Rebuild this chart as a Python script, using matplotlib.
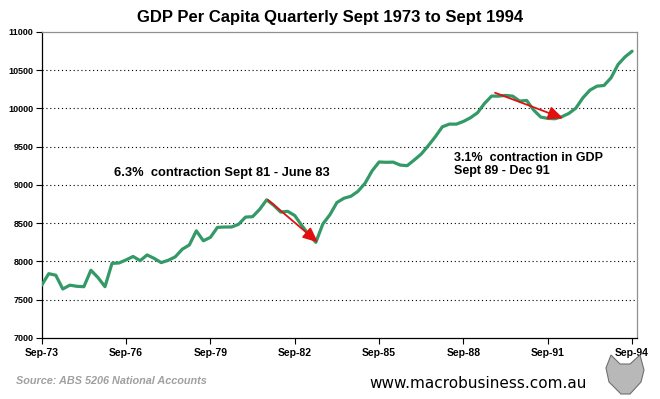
import matplotlib.pyplot as plt
import numpy as np
from matplotlib.patches import Polygon

plt.rcParams['font.family'] = ['Liberation Sans', 'DejaVu Sans']

# Quarterly GDP per capita, Sep-73 .. Sep-94
gdp = [7690, 7840, 7820, 7640, 7690, 7675, 7670, 7885, 7790, 7670,
       7975, 7980, 8020, 8065, 8010, 8085, 8040, 7985, 8015, 8060,
       8160, 8215, 8400, 8270, 8315, 8445, 8450, 8450, 8485, 8580,
       8585, 8680, 8805, 8735, 8645, 8655, 8600, 8470, 8350, 8250,
       8490, 8610, 8770, 8826, 8852, 8917, 9022, 9183, 9300, 9296,
       9298, 9260, 9252, 9326, 9404, 9513, 9630, 9760, 9795, 9795,
       9830, 9878, 9943, 10065, 10161, 10161, 10170, 10161, 10096, 10104,
       9978, 9887, 9870, 9865, 9891, 9935, 10004, 10139, 10239, 10291,
       10300, 10400, 10574, 10674, 10748]
tick_pos = [0, 12, 24, 36, 48, 60, 72, 84]
tick_labels = ['Sep-73', 'Sep-76', 'Sep-79', 'Sep-82', 'Sep-85', 'Sep-88', 'Sep-91', 'Sep-94']
y_ticks = [7000, 7500, 8000, 8500, 9000, 9500, 10000, 10500, 11000]

# arrows: (start x, start y, end x, end y) in data units
arrow1 = (32.2, 8804, 39.3, 8250)
arrow2 = (64.5, 10205, 74.2, 9870)

green = '#339966'
red = '#e01010'

fig = plt.figure(figsize=(6.6, 3.99), dpi=100)
ax = fig.add_axes([0.0632, 0.153, 0.902, 0.767])

x = np.arange(len(gdp))
ax.plot(x, gdp, color=green, linewidth=2.3, solid_capstyle='round', zorder=3)

for a in (arrow1, arrow2):
    ax.annotate('', xy=(a[2], a[3]), xytext=(a[0], a[1]),
                arrowprops=dict(arrowstyle='-|>,head_length=0.9,head_width=0.4',
                                color=red, lw=1.3, shrinkA=0, shrinkB=0),
                zorder=4)

ax.set_xlim(0, 84.7)
ax.set_ylim(7000, 11000)
ax.set_yticks(y_ticks)
ax.set_yticklabels([str(v) for v in y_ticks], fontsize=6.5, fontweight='bold')
ax.set_xticks(tick_pos)
ax.set_xticklabels(tick_labels, fontsize=7.5, fontweight='bold')
ax.tick_params(axis='both', direction='out', length=4, width=0.8, color='black', pad=2)
ax.tick_params(axis='x', pad=3)

for v in y_ticks[1:-1]:
    ax.axhline(v, color='black', linewidth=0.8, linestyle=(0, (1, 2.5)), zorder=1)

ax.spines['left'].set_color('black')
ax.spines['bottom'].set_color('black')
ax.spines['top'].set_color('#909090')
ax.spines['right'].set_color('#909090')
for s in ax.spines.values():
    s.set_linewidth(0.9)

ax.text(10.3, 9150, '6.3%  contraction Sept 81 - June 83', fontsize=9.3,
        fontweight='bold', va='center', ha='left')
ax.text(58.6, 9265, '3.1%  contraction in GDP\nSept 89 - Dec 91', fontsize=9,
        fontweight='bold', va='center', ha='left', linespacing=1.1)

fig.text(0.5, 0.955, 'GDP Per Capita Quarterly Sept 1973 to Sept 1994',
         ha='center', va='center', fontsize=12, fontweight='bold')
fig.text(0.024, 0.045, 'Source: ABS 5206 National Accounts', ha='left', va='center',
         fontsize=7.8, fontweight='bold', fontstyle='italic', color='#a0a0a0')
fig.text(0.56, 0.04, 'www.macrobusiness.com.au', ha='left', va='center',
         fontsize=11, family='DejaVu Sans', color='black')

# small grey fox-head logo stand-in
fox = np.array([[606, 368], [611, 355], [620, 364], [630, 364], [640, 355], [644, 370],
                [641, 382], [630, 394], [621, 394], [609, 382]], dtype=float)
fox[:, 0] /= 660
fox[:, 1] = 1 - fox[:, 1] / 399
fig.patches.append(Polygon(fox, closed=True, transform=fig.transFigure,
                           facecolor='#b8b8b8', edgecolor='#707070', linewidth=0.8))

fig.savefig('out.png', dpi=100, facecolor='white')
plt.close()
